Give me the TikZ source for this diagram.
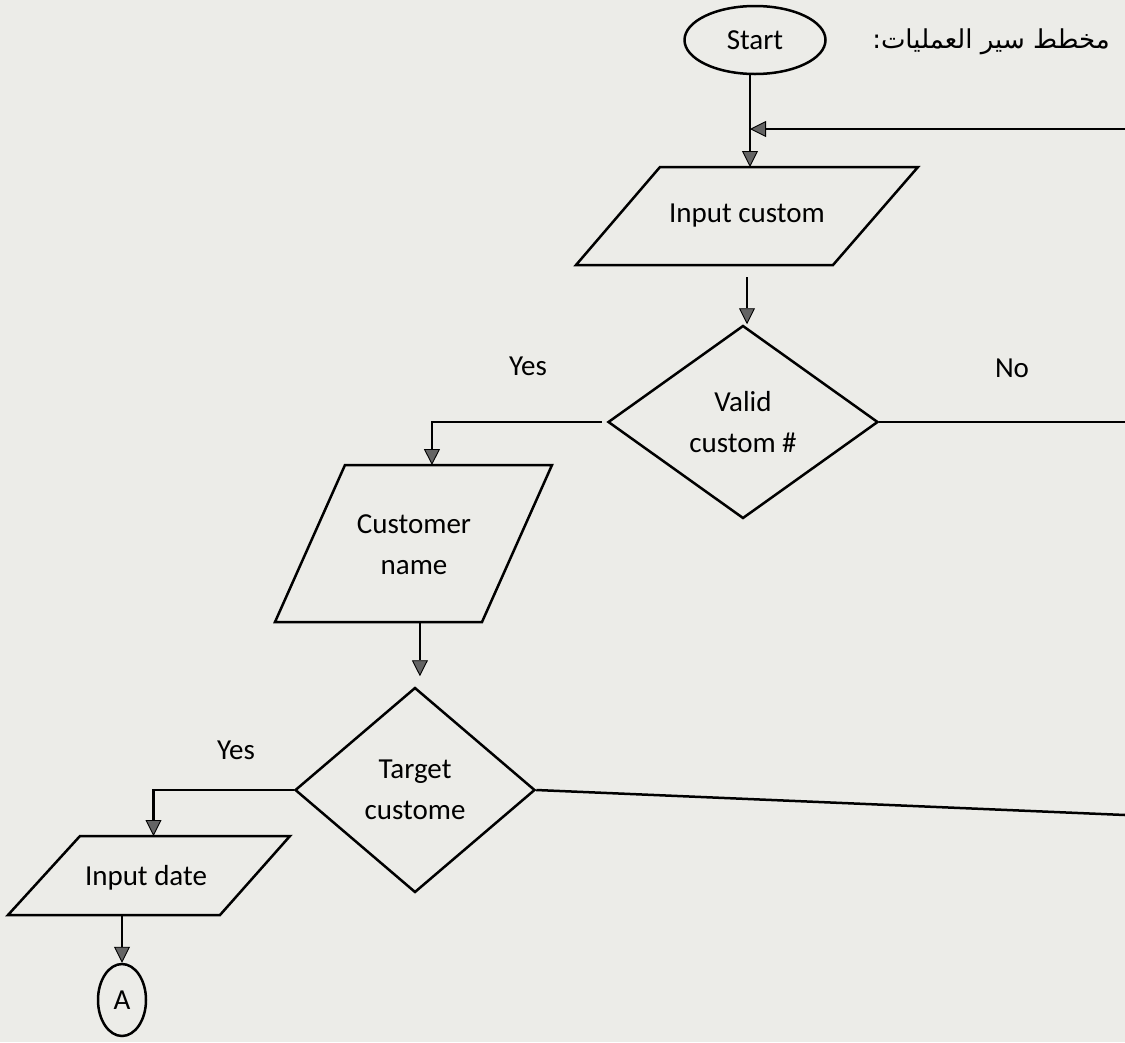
\documentclass[tikz,border=0pt]{standalone}
\usepackage{fontspec}
\setmainfont{Carlito}
\newfontfamily\arabicfont[Script=Arabic]{DejaVu Sans}
\TeXXeTstate=1
\usetikzlibrary{shapes.geometric,arrows.meta,calc}
\definecolor{paper}{RGB}{236,236,232}
\definecolor{tipgray}{RGB}{100,100,100}
\begin{document}
\begin{tikzpicture}[x=1pt,y=-1pt,
  every node/.style={font=\fontsize{29}{41}\selectfont},
  shapeline/.style={draw=black, line width=2.5pt, line join=miter, inner sep=0pt, align=center},
  term/.style={shapeline, ellipse},
  decide/.style={shapeline, diamond},
  iotext/.style={inner sep=0pt, align=center},
  flow/.style={line width=2.5pt, -{Triangle[length=16pt,width=16pt,fill=tipgray,line width=0.9pt]}},
  plain/.style={line width=2.5pt},
  lbl/.style={inner sep=0pt}
]
% page
\fill[paper] (0,0) rectangle (1125,1042);
\useasboundingbox (0,0) rectangle (1125,1042);

% terminals and decisions
\node[term, minimum width=141pt, minimum height=68pt] (start) at (755,40) {Start};
\node[decide, minimum width=270pt, minimum height=193pt] (valid) at (743,422) {Valid\\custom \#};
\node[decide, minimum width=240pt, minimum height=205pt] (target) at (415,790) {Target\\custome};
\node[term, minimum width=48pt, minimum height=72pt] (conA) at (122,1000) {A};

% data blocks (parallelograms): corners, outline, text
\coordinate (ic-tl) at (660,167); \coordinate (ic-tr) at (918,167);
\coordinate (ic-br) at (833,265); \coordinate (ic-bl) at (576,265);
\draw[shapeline] (ic-tl) -- (ic-tr) -- (ic-br) -- (ic-bl) -- cycle;
\node[iotext] (ic) at (747,216) {Input custom};

\coordinate (cu-tl) at (345,465); \coordinate (cu-tr) at (552,465);
\coordinate (cu-br) at (482,622); \coordinate (cu-bl) at (275,622);
\draw[shapeline] (cu-tl) -- (cu-tr) -- (cu-br) -- (cu-bl) -- cycle;
\node[iotext] (cust) at (414,545) {Customer\\name};

\coordinate (id-tl) at (80,836); \coordinate (id-tr) at (290,836);
\coordinate (id-br) at (220,915); \coordinate (id-bl) at (8,915);
\draw[shapeline] (id-tl) -- (id-tr) -- (id-br) -- (id-bl) -- cycle;
\node[iotext] (idate) at (146,878) {Input date};

% branch labels and heading
\node[lbl] (yes1) at (528,366) {Yes};
\node[lbl] (no1) at (1012,368) {No};
\node[lbl] (yes2) at (236,750) {Yes};
\node[lbl, anchor=east, font=\arabicfont\fontsize{26}{30}\selectfont] (title) at (1110,42)
  {\beginR مخطط سير العمليات:\endR};

% loose ends running off the page edge
\coordinate (loopin) at (1125,129);
\coordinate (noexit1) at (1125,422);
\coordinate (noexit2) at (1125,815);
% ports on the block edges
\coordinate (trunk) at (750,75);
\coordinate (ic-out) at ($(valid.north |- ic-bl)+(4,12)$);
\coordinate (va-yes) at ($(valid.west)+(-5,0)$);
\coordinate (cu-in) at ($(cu-tl)!0.42!(cu-tr)$);
\coordinate (cu-out) at ($(cu-bl)!0.7!(cu-br)$);
\coordinate (id-in) at ($(id-tl)!0.35!(id-tr)$);

% connectors
\draw[flow] (trunk) -- (trunk |- ic-tl);
\draw[flow] (loopin) -- (loopin -| trunk);
\draw[flow] (ic-out) -- (ic-out |- valid.north);
\draw[flow] (va-yes) -| (cu-in);
\draw[plain] (valid.east) -- (noexit1);
\draw[flow] (cu-out) -- ($(cu-out |- target.north)+(0,-10)$);
\draw[flow] (target.west) -| (id-in);
\draw[plain] (target.east) -- (noexit2);
\draw[flow] (conA.north |- id-bl) -- (conA.north);
\end{tikzpicture}
\end{document}
